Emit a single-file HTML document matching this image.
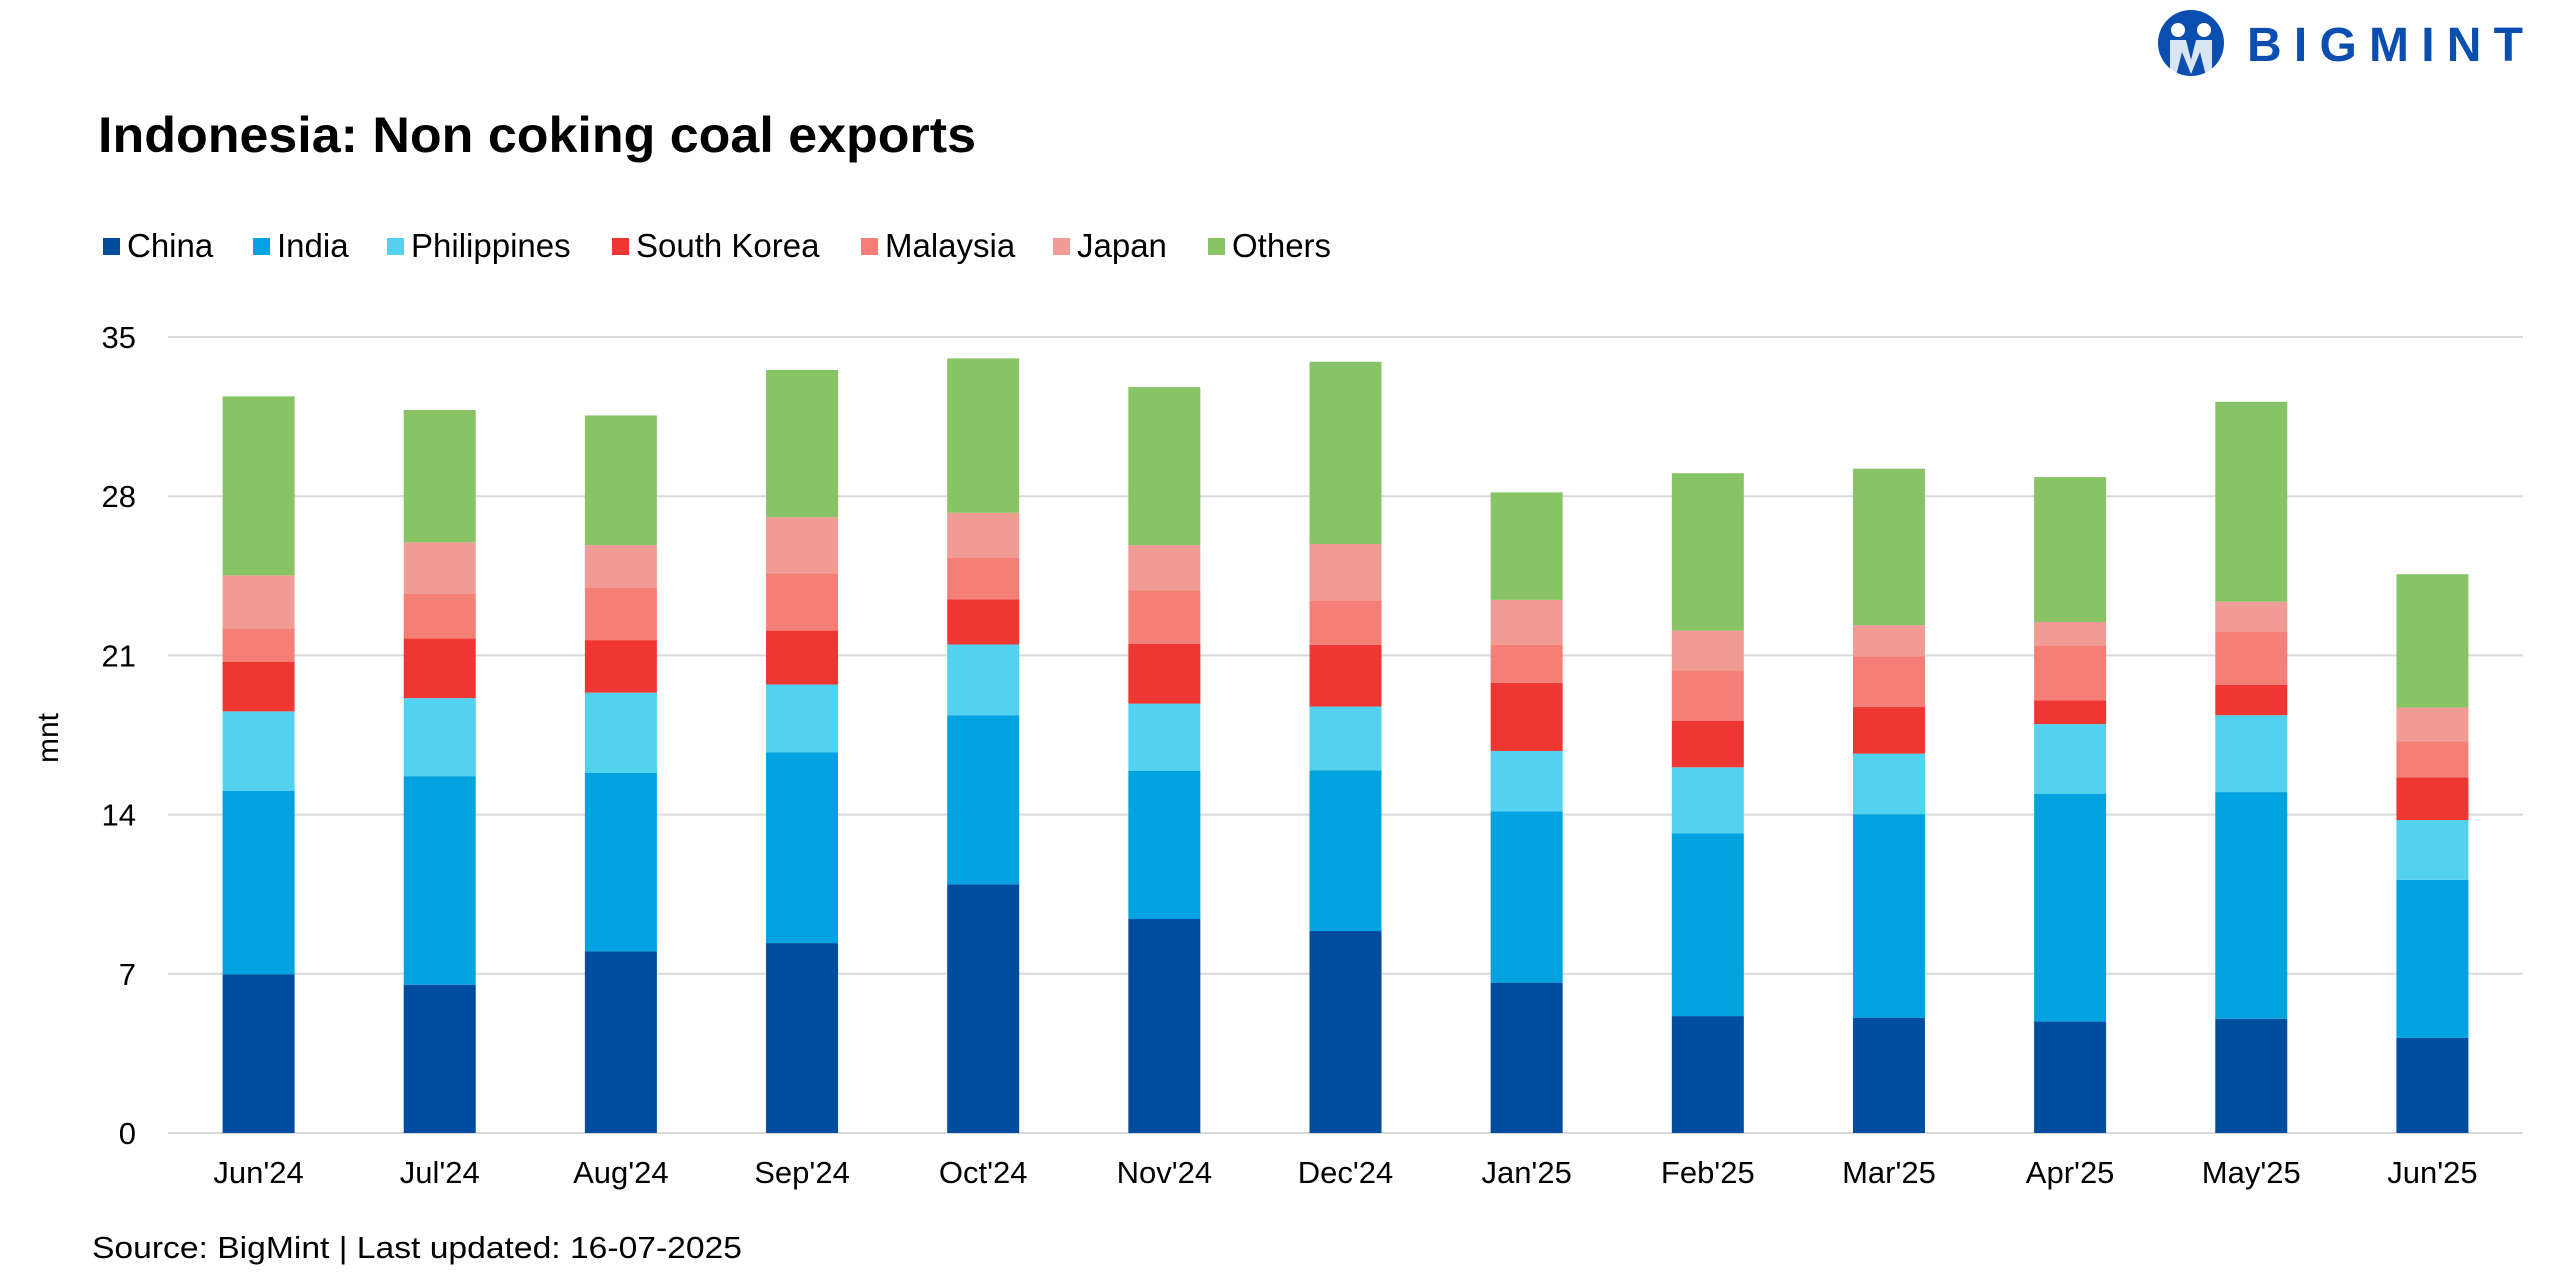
<!DOCTYPE html>
<html><head><meta charset="utf-8">
<style>
html,body{margin:0;padding:0;background:#fff;}
body{width:2560px;height:1280px;position:relative;overflow:hidden;font-family:"Liberation Sans",sans-serif;}
svg{position:absolute;left:0;top:0;}
</style></head>
<body>
<svg id="chart" width="2560" height="1280" xmlns="http://www.w3.org/2000/svg">
  <text x="98" y="152" font-size="50" font-weight="bold" fill="#000" textLength="878" lengthAdjust="spacingAndGlyphs">Indonesia: Non coking coal exports</text>
  <g id="logo">
    <circle cx="2191" cy="43" r="33" fill="#0a4fb0"/>
    <circle cx="2178" cy="30" r="7" fill="#fff"/>
    <circle cx="2204" cy="30" r="7" fill="#fff"/>
    <path d="M2170 40 L2186 40 L2191 60 L2196 40 L2212 40 L2212 72 L2206 76 L2200 52 L2191 74 L2182 52 L2176 76 L2170 72 Z" fill="#fff" opacity="0.85"/>
    <text x="2247" y="61" font-size="48" font-weight="bold" fill="#0a4fb0" textLength="276" lengthAdjust="spacing">BIGMINT</text>
  </g>
  <g id="legend"></g>
  <g id="grid"></g>
  <g id="bars"></g>
  <g id="yticks"></g>
  <g id="xticks"></g>
  <text x="0" y="0" transform="translate(58,738) rotate(-90)" text-anchor="middle" font-size="30" fill="#000">mnt</text>
  <text x="92" y="1258" font-size="31" fill="#000" textLength="650" lengthAdjust="spacingAndGlyphs">Source: BigMint | Last updated: 16-07-2025</text>
</svg>
<script>
const categories = ["Jun'24","Jul'24","Aug'24","Sep'24","Oct'24","Nov'24","Dec'24","Jan'25","Feb'25","Mar'25","Apr'25","May'25","Jun'25"];
const seriesNames = ["China","India","Philippines","South Korea","Malaysia","Japan","Others"];
const china = [6.98,6.52,7.99,8.35,10.93,9.41,8.88,6.61,5.14,5.07,4.90,5.02,4.18];
const india = [8.06,9.17,7.84,8.38,7.44,6.52,7.07,7.53,8.04,8.95,10.02,9.97,6.95];
const philippines = [3.50,3.43,3.53,2.99,3.11,2.95,2.80,2.66,2.90,2.66,3.06,3.38,2.63];
const southKorea = [2.17,2.63,2.31,2.37,1.98,2.63,2.71,2.99,2.05,2.05,1.04,1.33,1.88];
const malaysia = [1.45,1.95,2.32,2.51,1.84,2.36,1.95,1.67,2.22,2.22,2.41,2.36,1.59];
const japan = [2.36,2.27,1.86,2.48,1.97,1.98,2.49,1.98,1.74,1.38,1.04,1.30,1.48];
const others = [7.87,5.82,5.70,6.47,6.79,6.95,8.01,4.73,6.92,6.88,6.37,8.79,5.86];
const yTicks = [0,7,14,21,28,35];

const series = [china,india,philippines,southKorea,malaysia,japan,others];
const colors = ["#004c9f","#00a2df","#53d2ef","#ee3733","#f47f76","#f09c95","#88c466"];
const NS = "http://www.w3.org/2000/svg";
const plotL = 168, plotR = 2523, y0px = 1133, yTopPx = 337, yMax = 35;
const band = (plotR - plotL) / categories.length;
const barW = 72;
function yScale(v){ return y0px - (v / yMax) * (y0px - yTopPx); }
function xCenter(i){ return plotL + band * (i + 0.5); }
function mk(tag, attrs, parent){ const e = document.createElementNS(NS, tag); for (const k in attrs) e.setAttribute(k, attrs[k]); parent.appendChild(e); return e; }

const grid = document.getElementById('grid');
const yt = document.getElementById('yticks');
yTicks.forEach(t => {
  const l = mk('line', {x1: plotL, x2: plotR, y1: yScale(t), y2: yScale(t), stroke: '#d9d9d9', 'stroke-width': 2}, grid);
  
  
  const tx = mk('text', {x: 136, y: yScale(t) + 11, 'text-anchor': 'end', 'font-size': 31, fill: '#000'}, yt);
  tx.textContent = t;
  
  
});

const bars = document.getElementById('bars');
const xt = document.getElementById('xticks');
categories.forEach((c, i) => {
  let cum = 0;
  series.forEach((s, k) => {
    const top = cum + s[i];
    const r = mk('rect', {x: xCenter(i) - barW / 2, y: yScale(top), width: barW, height: yScale(cum) - yScale(top), fill: colors[k]}, bars);
    
    
    cum = top;
  });
  const tx = mk('text', {x: xCenter(i), y: 1183, 'text-anchor': 'middle', 'font-size': 31, fill: '#000'}, xt);
  tx.textContent = c;
  
  
});

const legend = document.getElementById('legend');
const legX = [103, 253, 387, 612, 861, 1053, 1208];
seriesNames.forEach((n, k) => {
  const g = mk('g', {}, legend);
  
  
  mk('rect', {x: legX[k], y: 238, width: 17, height: 17, fill: colors[k]}, g);
  const t = mk('text', {x: legX[k] + 24, y: 257, 'font-size': 33, fill: '#000'}, g);
  t.textContent = n;
});
</script>
</body></html>
